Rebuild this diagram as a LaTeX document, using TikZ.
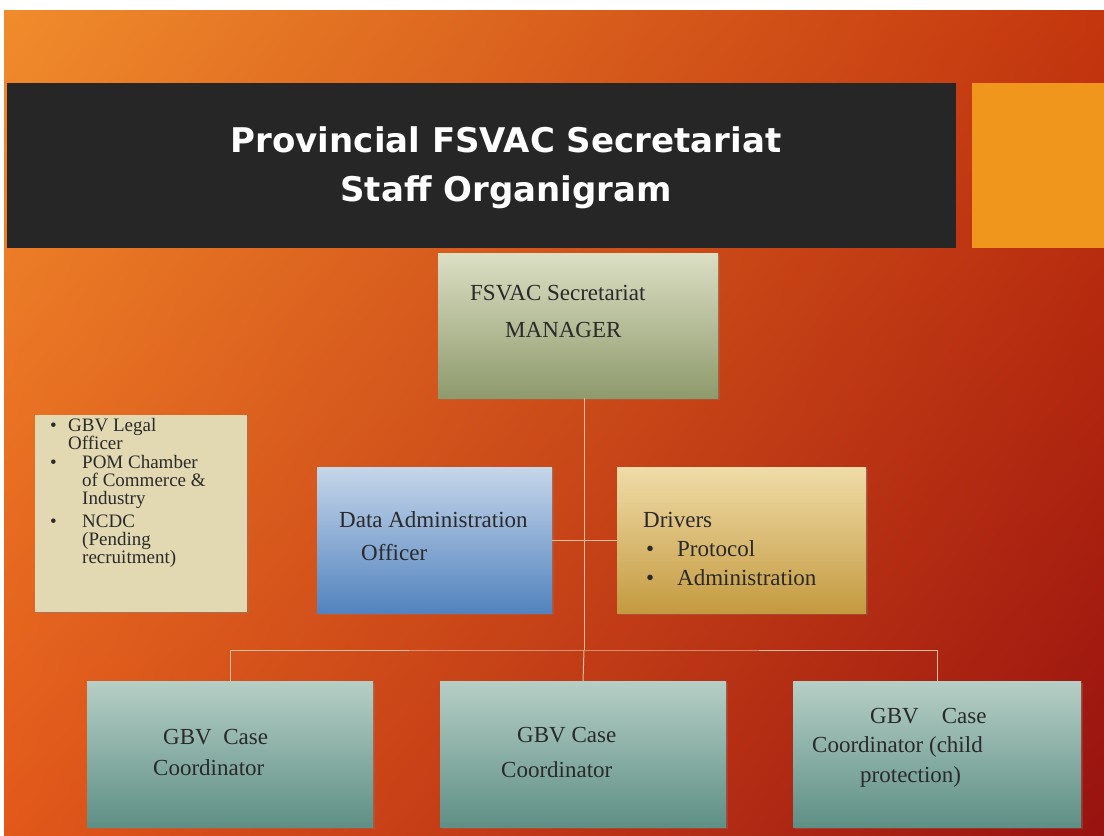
\documentclass[tikz,border=0pt]{standalone}
\usepackage{fontspec}
\setmainfont{Liberation Serif}
\newfontfamily\titlefont{DejaVu Sans}
\usetikzlibrary{shadows,shadings}

\definecolor{bgul}{HTML}{F08C2C}
\definecolor{bgur}{HTML}{C4360E}
\definecolor{bgll}{HTML}{E2581A}
\definecolor{bglr}{HTML}{981210}
\definecolor{barblack}{HTML}{262626}
\definecolor{sqorange}{HTML}{F0961C}
\definecolor{linkline}{HTML}{E2BC9C}
\definecolor{ink}{HTML}{2A2A2A}
\definecolor{mgrtop}{HTML}{DCDFC4}
\definecolor{mgrbot}{HTML}{8E9A6C}
\definecolor{legalfill}{HTML}{E2D9B2}
\definecolor{datatop}{HTML}{C6D6EA}
\definecolor{databot}{HTML}{5283BE}
\definecolor{drvtop}{HTML}{F0DCA8}
\definecolor{drvbot}{HTML}{C49A40}
\definecolor{cctop}{HTML}{B6CFC6}
\definecolor{ccbot}{HTML}{5E8F85}

\begin{document}
\begin{tikzpicture}[x=1pt, y=-1pt,
  box/.style={inner sep=0pt, minimum height=146pt,
    drop shadow={opacity=0.3, shadow xshift=2pt, shadow yshift=-2pt}},
  ccbox/.style={box, top color=cctop, bottom color=ccbot},
  txt/.style={inner sep=0pt, text=ink, anchor=base west,
    font=\fontsize{23}{25}\selectfont},
  item/.style={inner sep=0pt, text=ink, anchor=north west, align=left,
    font=\fontsize{19}{18}\selectfont},
  link/.style={draw=linkline, line width=1pt}]

  \useasboundingbox (0,0) rectangle (1104,836);
  \fill[white] (0,0) rectangle (1104,836);
  \shade[upper left=bgul, upper right=bgur, lower left=bgll, lower right=bglr]
    (4,10) rectangle (1104,836);

  % title band
  \fill[barblack] (7,83) rectangle (956,248);
  \fill[sqorange] (972,83) rectangle (1104,248);
  \node[align=center, text=white, font=\titlefont\bfseries\fontsize{34}{49}\selectfont]
    (title) at (506,168) {Provincial FSVAC Secretariat\\Staff Organigram};

  % boxes
  \node[box, minimum width=280pt, minimum height=145pt, top color=mgrtop, bottom color=mgrbot]
    (mgr) at (578,325.5) {};
  \node[box, minimum width=212pt, minimum height=197pt, fill=legalfill]
    (legal) at (141,513.5) {};
  \node[box, minimum width=235pt, top color=datatop, bottom color=databot]
    (data) at (434.5,540) {};
  \node[box, minimum width=249pt, top color=drvtop, bottom color=drvbot]
    (drv) at (741.5,540) {};
  \node[ccbox, minimum width=286pt] (cc1) at (230,754) {};
  \node[ccbox, minimum width=286pt] (cc2) at (583,754) {};
  \node[ccbox, minimum width=288pt] (cc3) at (937,754) {};

  % connectors
  \coordinate (bus) at (584,650);
  \draw[link] (mgr.south -| bus) -- (bus);
  \draw[link] (data.east) -- (drv.west);
  \draw[link] (cc1.north) |- (bus) -| (cc3.north);
  \draw[link] (bus) -- (cc2.north);

  % texts
  \node[txt] (mgr1) at (470,300) {FSVAC Secretariat};
  \node[txt] (mgr2) at (505,337) {MANAGER};

  \node[txt] (data1) at (339,527) {Data Administration};
  \node[txt] (data2) at (361,560) {Officer};

  \node[txt] (drv1) at (643,527) {Drivers};
  \node[txt] (drv2) at (646,556) {•};
  \node[txt] (drv3) at (677,556) {Protocol};
  \node[txt] (drv4) at (646,585) {•};
  \node[txt] (drv5) at (677,585) {Administration};

  \node[item] (legal1) at (68,418) {GBV Legal\\Officer};
  \node[item] (legal2) at (82,455) {POM Chamber\\of Commerce \&\\Industry};
  \node[item] (legal3) at (82,514.4) {NCDC\\(Pending\\recruitment)};
  \foreach \n in {1,2,3}
    \node[txt, font=\fontsize{19}{19}\selectfont, anchor=base west]
      (dot\n) at (50,0 |- legal\n.north) [yshift=-13pt] {•};

  \node[txt] (cc1a) at (163,744) {GBV\ \ Case};
  \node[txt] (cc1b) at (153,775) {Coordinator};
  \node[txt] (cc2a) at (517,742) {GBV Case};
  \node[txt] (cc2b) at (501,777) {Coordinator};
  \node[txt] (cc3a) at (870,723) {GBV\ \ \ \ Case};
  \node[txt] (cc3b) at (812,752) {Coordinator (child};
  \node[txt] (cc3c) at (860,782) {protection)};
\end{tikzpicture}
\end{document}
